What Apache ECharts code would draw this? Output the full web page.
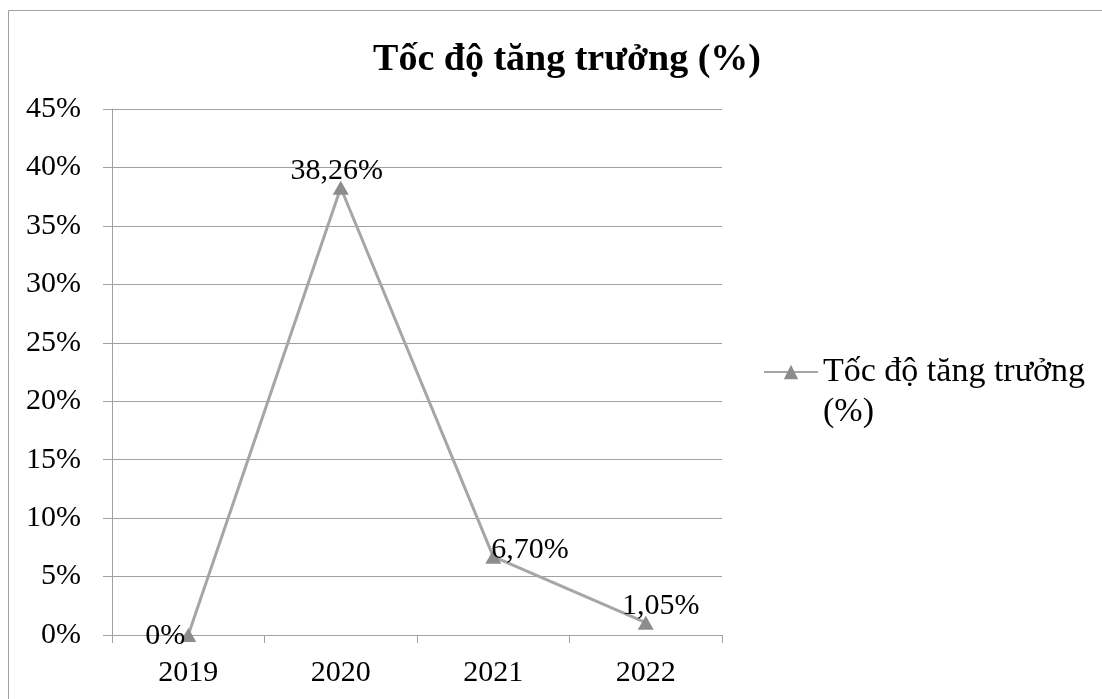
<!DOCTYPE html>
<html>
<head>
<meta charset="utf-8">
<script src="https://cdn.jsdelivr.net/npm/echarts@6/dist/echarts.min.js"></script>
<style>
  html, body { margin: 0; padding: 0; background: #fff; }
  #chart { width: 1102px; height: 699px; }
</style>
</head>
<body>
<div id="chart"></div>
<script>
const years = ['2019', '2020', '2021', '2022']
const growth = [0, 38.26, 6.70, 1.05]
const yTicks = [0, 5, 10, 15, 20, 25, 30, 35, 40, 45]
const seriesName = 'Tốc độ tăng trưởng (%)'

// Excel-style label placement per point
const labelPos = [
  { position: 'left', offset: [10, 1] },
  { position: 'top', offset: [-4, 10] },
  { position: 'right', offset: [-15, -7] },
  { position: 'top', offset: [15, 10] }
]

const font = '"Liberation Serif", "Times New Roman", serif'
const chart = echarts.init(document.getElementById('chart'))

const fmt = v => v === 0 ? '0%' : v.toFixed(2).replace('.', ',') + '%'

chart.setOption({
  animation: false,
  textStyle: { fontFamily: font },
  title: {
    text: 'Tốc độ tăng trưởng (%)',
    left: 562,
    top: 36,
    textAlign: 'center',
    textStyle: { fontFamily: font, fontSize: 38, fontWeight: 'bold', color: '#000' }
  },
  graphic: [{
    type: 'rect',
    shape: { x: 8.5, y: 10.5, width: 1100, height: 700 },
    style: { fill: 'none', stroke: '#a0a0a0', lineWidth: 1 },
    silent: true
  }],
  legend: {
    data: [seriesName],
    orient: 'vertical',
    left: 763,
    top: 312,
    padding: 0,
    itemWidth: 54,
    itemHeight: 18,
    formatter: () => '\nTốc độ tăng trưởng\n(%)',
    textStyle: { fontFamily: font, fontSize: 34, color: '#000', lineHeight: 40 }
  },
  grid: { left: 112, right: 380, top: 109, bottom: 64 },
  xAxis: {
    type: 'category',
    data: years,
    boundaryGap: true,
    axisLine: { lineStyle: { color: '#a0a0a0', width: 1 } },
    axisTick: { show: true, length: 8, lineStyle: { color: '#a0a0a0' } },
    axisLabel: { fontFamily: font, fontSize: 30, color: '#000', margin: 23 }
  },
  yAxis: {
    type: 'value',
    min: 0,
    max: 45,
    interval: 5,
    axisLine: { show: true, lineStyle: { color: '#a0a0a0', width: 1 } },
    axisTick: { show: true, length: 9, lineStyle: { color: '#a0a0a0' } },
    splitLine: { lineStyle: { color: '#a0a0a0', width: 1 } },
    axisLabel: {
      fontFamily: font, fontSize: 30, color: '#000', margin: 31,
      formatter: v => yTicks.includes(v) ? v + '%' : ''
    }
  },
  series: [{
    name: seriesName,
    type: 'line',
    data: growth.map((v, i) => ({
      value: v,
      label: { position: labelPos[i].position, offset: labelPos[i].offset }
    })),
    symbol: 'triangle',
    symbolSize: [16, 14],
    itemStyle: { color: '#8c8c8c' },
    lineStyle: { color: '#a6a6a6', width: 3 },
    label: {
      show: true,
      fontFamily: font,
      fontSize: 30,
      color: '#000',
      formatter: p => fmt(p.value)
    }
  }]
})
</script>
</body>
</html>
